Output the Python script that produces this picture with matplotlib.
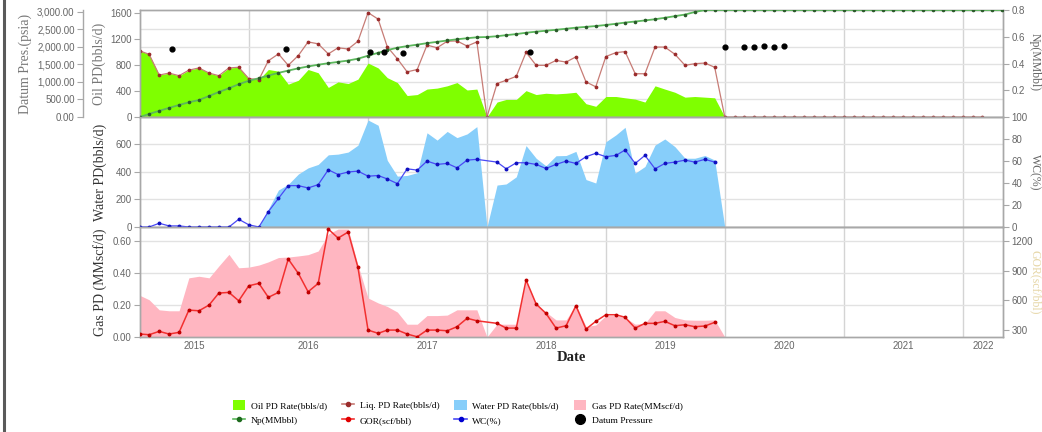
import numpy as np
import pandas as pd
import matplotlib
matplotlib.use('Agg')
import matplotlib.pyplot as plt
from matplotlib.lines import Line2D
from matplotlib.patches import Patch

# --- Monthly well production history (first point Feb 2015) ---
months = pd.date_range('2015-02-01', periods=88, freq='MS')

oil_rate = [1012, 961, 643, 673, 633, 718, 752, 673, 633, 752,
            762, 588, 573, 728, 703, 503, 563, 728, 678, 453,
            538, 513, 580, 827, 752, 603, 528, 329, 344, 428,
            443, 478, 528, 414, 428, 0, 229, 269, 269, 404,
            344, 364, 354, 364, 379, 204, 164, 314, 314, 294,
            274, 229, 478, 428, 379, 304, 314, 304, 294, 0]

liq_rate = [1012, 961, 643, 673, 633, 718, 752, 673, 633, 752,
            762, 588, 573, 862, 967, 792, 942, 1151, 1121, 967,
            1061, 1042, 1161, 1600, 1500, 1076, 892, 692, 728, 1102,
            1061, 1161, 1166, 1087, 1151, 0, 513, 563, 623, 991,
            792, 792, 867, 842, 922, 538, 463, 927, 987, 1002,
            663, 663, 1072, 1072, 961, 792, 817, 827, 762, 0,
            0, 0, 0, 0, 0, 0, 0, 0, 0, 0,
            0, 0, 0, 0, 0, 0, 0, 0, 0, 0,
            0, 0, 0, 0, 0, 0]

water_rate = [0, 0, 0, 0, 0, 0, 0, 0, 0, 0,
              0, 0, 0, 130, 269, 310, 385, 430, 455, 525,
              530, 545, 595, 778, 740, 485, 370, 375, 395, 685,
              632, 695, 650, 677, 730, 0, 305, 313, 365, 592,
              500, 445, 518, 520, 550, 345, 320, 620, 670, 725,
              392, 440, 596, 640, 584, 500, 500, 520, 487, 0]

gas_rate = [0.260, 0.233, 0.170, 0.164, 0.164, 0.370, 0.380, 0.370, 0.444, 0.517,
            0.433, 0.437, 0.450, 0.470, 0.497, 0.500, 0.507, 0.515, 0.538, 0.644,
            0.675, 0.675, 0.450, 0.244, 0.213, 0.191, 0.156, 0.080, 0.080, 0.134,
            0.134, 0.137, 0.170, 0.170, 0.170, 0.000, 0.080, 0.080, 0.080, 0.353,
            0.206, 0.156, 0.107, 0.107, 0.202, 0.066, 0.075, 0.134, 0.134, 0.122,
            0.080, 0.085, 0.164, 0.164, 0.122, 0.107, 0.105, 0.105, 0.107, 0.000]

np_cum = [0.000, 0.023, 0.046, 0.068, 0.090, 0.110, 0.127, 0.157, 0.187, 0.215,
          0.245, 0.271, 0.290, 0.310, 0.330, 0.347, 0.364, 0.378, 0.391, 0.402,
          0.412, 0.422, 0.436, 0.458, 0.480, 0.500, 0.518, 0.530, 0.541, 0.552,
          0.562, 0.572, 0.581, 0.589, 0.596, 0.598, 0.604, 0.612, 0.620, 0.630,
          0.638, 0.645, 0.652, 0.660, 0.668, 0.674, 0.680, 0.688, 0.697, 0.706,
          0.714, 0.722, 0.731, 0.742, 0.754, 0.766, 0.785, 0.800, 0.800, 0.800,
          0.800, 0.800, 0.800, 0.800, 0.800, 0.800, 0.800, 0.800, 0.800, 0.800,
          0.800, 0.800, 0.800, 0.800, 0.800, 0.800, 0.800, 0.800, 0.800, 0.800,
          0.800, 0.800, 0.800, 0.800, 0.800, 0.800, 0.800, 0.800]

# water cut and GOR are undefined in the shut-in month (Jan 2018)
wc_pct = [0, 0, 3.4, 1, 1, 0, 0, 0, 0, 0,
          7, 2, 0, 14, 26, 37.6, 37.6, 35.5, 38.5, 52,
          47.7, 50, 50.8, 46.2, 46.8, 43.7, 39.4, 52.9, 51.7, 59.9,
          56.9, 57.8, 53.8, 60.8, 61.5, np.nan, 59, 52.9, 58.4, 58.4,
          56.9, 53.2, 56.9, 59.9, 57.8, 63.9, 67, 63.9, 65.1, 70,
          57.8, 65.1, 52.9, 57.8, 59, 60.8, 59, 61.5, 59]

gor = [260, 253, 287, 260, 277, 502, 495, 553, 674, 681,
       596, 748, 772, 631, 681, 1018, 873, 687, 772, 1321,
       1230, 1291, 934, 300, 267, 300, 300, 260, 232, 300,
       300, 293, 334, 419, 394, np.nan, 368, 320, 320, 806,
       563, 469, 320, 344, 546, 310, 388, 455, 455, 429,
       320, 368, 368, 388, 344, 354, 334, 341, 378]

datum_dates = pd.to_datetime(['2015-05-11', '2016-04-23', '2017-01-07', '2017-02-19',
                              '2017-04-19', '2018-05-12', '2020-01-01', '2020-03-01',
                              '2020-04-01', '2020-05-01', '2020-06-01', '2020-07-01'])
datum_press = [1936, 1945, 1850, 1850, 1822, 1868, 1990, 1990, 1990, 2020, 2010, 2020]

years = list(range(2015, 2023))

# --- Styling ---
SERIF = 'Liberation Serif'
SANS = 'Liberation Sans'
plt.rcParams['font.family'] = SANS
TICK_CLR = '#666666'
SPINE_CLR = '#A8A8A8'
GRID_CLR = '#E2E2E2'

c_oil = '#7FFF00'
c_liq = '#C77C76'
c_liq_mk = '#9A2C2C'
c_np = '#5CB85C'
c_np_mk = '#2A5A2A'
c_water = '#87CEFA'
c_wc = '#4A4AF5'
c_gas = '#FFB6C1'
c_gor = '#F23030'

W, H = 1042, 432
fig = plt.figure(figsize=(W / 100, H / 100), dpi=100)
left, right = 140 / W, 1003 / W
axw = right - left


def panel(top_px, bot_px):
    return fig.add_axes([left, 1 - bot_px / H, axw, (bot_px - top_px) / H])


ax1 = panel(10, 117)
ax2 = panel(117, 227)
ax3 = panel(227, 337)

x0 = months[0]
x1 = pd.Timestamp('2022-05-04')
n_prod = len(oil_rate)
prod_dates = months[:n_prod]


def style_axis(ax):
    for s in ax.spines.values():
        s.set_color(SPINE_CLR)
        s.set_linewidth(1.0)
    ax.tick_params(axis='y', colors=SPINE_CLR, labelcolor=TICK_CLR, labelsize=7,
                   length=4, width=0.8, pad=2)
    ax.set_xlim(x0, x1)


# year boundaries as vertical grid lines, year names centred in the visible span
year_starts = [pd.Timestamp(f'{y}-01-01') for y in years[1:]]
label_pos = []
for y in years:
    a = max(pd.Timestamp(f'{y}-01-01'), x0)
    b = min(pd.Timestamp(f'{y + 1}-01-01'), x1)
    label_pos.append(a + (b - a) / 2)

for ax in (ax1, ax2, ax3):
    style_axis(ax)
    ax.set_xticks(year_starts)
    ax.set_xticklabels([])
    ax.tick_params(axis='x', which='major', length=0)
    ax.set_xticks(label_pos, minor=True)
    ax.tick_params(axis='x', which='minor', length=0)
    ax.set_xticklabels([], minor=True)
    for d in year_starts:
        ax.axvline(d, color='#D4D4D4', lw=1.0, zorder=0)

ax3.set_xticklabels([str(y) for y in years], minor=True, fontsize=7, color=TICK_CLR)
ax3.tick_params(axis='x', which='minor', pad=3)

# ---------------- top panel: oil / liquid / Np / datum pressure ----------------
oil_top = 1640
datum_top = 3055
ax1.set_ylim(0, oil_top)
ax1.set_yticks([0, 400, 800, 1200, 1600])
for v in [500, 1000, 1500, 2000, 2500]:
    ax1.axhline(v * oil_top / datum_top, color=GRID_CLR, lw=1.0, zorder=0)
ax1.fill_between(prod_dates, oil_rate, 0, color=c_oil, lw=0, zorder=1)
ax1.plot(months[:len(liq_rate)], liq_rate, color=c_liq, lw=0.9, marker='o', ms=1.7,
         mfc=c_liq_mk, mec=c_liq_mk, zorder=3)
ax1.set_ylabel('Oil PD(bbls/d)', family=SERIF, fontsize=10, color='#777777', labelpad=3)

ax1np = ax1.twinx()
style_axis(ax1np)
ax1np.set_ylim(0, 0.8)
ax1np.set_yticks([0.2, 0.4, 0.6, 0.8])
ax1np.set_yticklabels(['0.2', '0.4', '0.6', '0.8'])
ax1np.plot(months, np_cum, color=c_np, lw=1.3, marker='o', ms=1.6,
           mfc=c_np_mk, mec=c_np_mk, zorder=3)

ax1p = ax1.twinx()
ax1p.spines['right'].set_visible(False)
ax1p.spines['left'].set_visible(True)
ax1p.spines['left'].set_position(('axes', -57 / 862))
ax1p.yaxis.set_label_position('left')
ax1p.yaxis.tick_left()
style_axis(ax1p)
for s in ('top', 'bottom'):
    ax1p.spines[s].set_visible(False)
ax1p.set_ylim(0, datum_top)
ax1p.set_yticks([0, 500, 1000, 1500, 2000, 2500, 3000])
ax1p.set_yticklabels([f'{v:,.2f}' for v in [0, 500, 1000, 1500, 2000, 2500, 3000]])
ax1p.scatter(datum_dates, datum_press, s=12, color='black', zorder=5)
ax1p.set_ylabel('Datum Pres.(psia)', family=SERIF, fontsize=10, color='#777777', labelpad=4)

# ---------------- middle panel: water rate / water cut ----------------
ax2.set_ylim(0, 800)
ax2.set_yticks([0, 200, 400, 600])
for v in [200, 400, 600]:
    ax2.axhline(v, color=GRID_CLR, lw=1.0, zorder=0)
ax2.fill_between(prod_dates, water_rate, 0, color=c_water, lw=0, zorder=1)
ax2.set_ylabel('Water PD(bbls/d)', family=SERIF, fontsize=10, color='#333333', labelpad=6)

ax2wc = ax2.twinx()
style_axis(ax2wc)
ax2wc.set_ylim(0, 100)
ax2wc.set_yticks([0, 20, 40, 60, 80, 100])
wc_s = pd.Series(wc_pct, index=months[:len(wc_pct)]).dropna()
ax2wc.plot(wc_s.index, wc_s.values, color=c_wc, lw=0.9, marker='o', ms=1.8,
           mfc='#1010C0', mec='#1010C0', zorder=3)

# ---------------- bottom panel: gas rate / GOR ----------------
ax3.set_ylim(0, 0.688)
ax3.set_yticks([0, 0.2, 0.4, 0.6])
ax3.set_yticklabels(['0.00', '0.20', '0.40', '0.60'])
for v in [0.2, 0.4, 0.6]:
    ax3.axhline(v, color=GRID_CLR, lw=1.0, zorder=0)
ax3.fill_between(prod_dates, gas_rate, 0, color=c_gas, lw=0, zorder=1)
ax3.set_ylabel('Gas PD (MMscf/d)', family=SERIF, fontsize=10, color='#333333', labelpad=4)

ax3g = ax3.twinx()
style_axis(ax3g)
ax3g.set_ylim(230, 1342)
ax3g.set_yticks([300, 600, 900, 1200])
gor_s = pd.Series(gor, index=months[:len(gor)]).dropna()
ax3g.plot(gor_s.index, gor_s.values, color=c_gor, lw=1.1, marker='o', ms=1.8,
          mfc='#C00000', mec='#C00000', zorder=3)

ax3.set_xlabel('Date', family=SERIF, fontsize=10.5, fontweight='bold', color='#222222',
               labelpad=0)

# right-hand axis titles, squeezed against the right edge
fig.text(1035 / W, 1 - 62 / H, 'Np(MMbbl)', rotation=270, ha='center', va='center',
         family=SERIF, fontsize=8.5, color='#666666')
fig.text(1035 / W, 1 - 172 / H, 'WC(%)', rotation=270, ha='center', va='center',
         family=SERIF, fontsize=8.5, color='#666666')
fig.text(1035 / W, 1 - 282 / H, 'GOR(scf/bbl)', rotation=270, ha='center', va='center',
         family=SERIF, fontsize=8.5, color='#E6D6A6')

# page border on the left
fig.add_artist(Line2D([4 / W, 4 / W], [0, 1], color='#5A5A5A', lw=2.2))

# --- Legend ---
handles = [
    Patch(facecolor=c_oil, edgecolor='none'),
    Line2D([], [], color=c_np, marker='o', ms=3, mfc='#1E6B1E', mec='#1E6B1E', lw=1.2),
    Line2D([], [], color=c_liq, marker='o', ms=3, mfc=c_liq_mk, mec=c_liq_mk, lw=1.2),
    Line2D([], [], color=c_gor, marker='o', ms=3, mfc='#E00000', mec='#E00000', lw=1.2),
    Patch(facecolor=c_water, edgecolor='none'),
    Line2D([], [], color=c_wc, marker='o', ms=3, mfc='#0000D0', mec='#0000D0', lw=1.2),
    Patch(facecolor=c_gas, edgecolor='none'),
    Line2D([], [], color='black', marker='o', ms=7, lw=0),
]
labels = ['Oil PD Rate(bbls/d)', 'Np(MMbbl)', 'Liq. PD Rate(bbls/d)', 'GOR(scf/bbl)',
          'Water PD Rate(bbls/d)', 'WC(%)', 'Gas PD Rate(MMscf/d)', 'Datum Pressure']
fig.legend(handles, labels, ncol=4, loc='upper left',
           bbox_to_anchor=(226 / W, 1 - 393 / H), frameon=False,
           prop={'family': SERIF, 'size': 6.8}, handlelength=1.3, handleheight=1.3,
           columnspacing=1.6, labelspacing=0.55, handletextpad=0.6, borderpad=0.2)

fig.savefig('out.png', dpi=100, facecolor='white')
